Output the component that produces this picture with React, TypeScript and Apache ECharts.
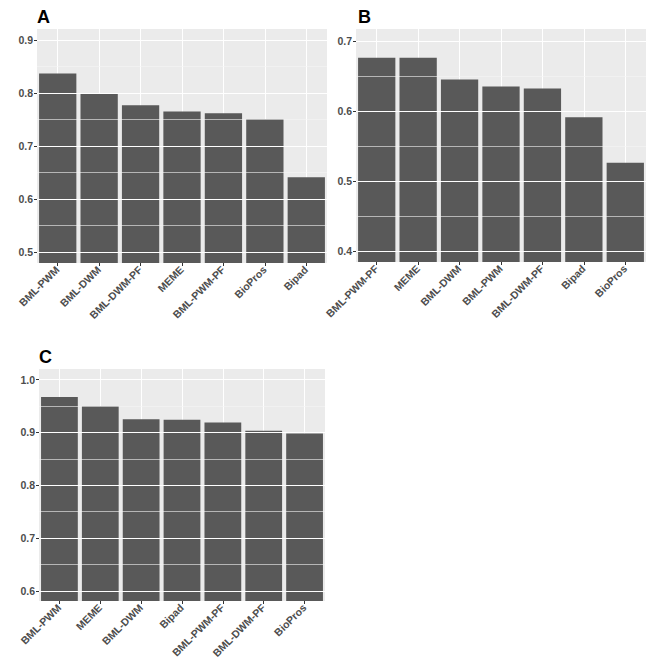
import React, { useEffect, useRef } from "react";
import * as echarts from "echarts";

const catsA = ["BML-PWM", "BML-DWM", "BML-DWM-PF", "MEME", "BML-PWM-PF", "BioPros", "Bipad"];
const valsA = [0.837, 0.798, 0.777, 0.765, 0.762, 0.751, 0.641];
const majorA = [0.5, 0.6, 0.7, 0.8, 0.9];
const minorA = [0.55, 0.65, 0.75, 0.85];

const catsB = ["BML-PWM-PF", "MEME", "BML-DWM", "BML-PWM", "BML-DWM-PF", "Bipad", "BioPros"];
const valsB = [0.676, 0.676, 0.645, 0.635, 0.632, 0.591, 0.526];
const majorB = [0.4, 0.5, 0.6, 0.7];
const minorB = [0.45, 0.55, 0.65];

const catsC = ["BML-PWM", "MEME", "BML-DWM", "Bipad", "BML-PWM-PF", "BML-DWM-PF", "BioPros"];
const valsC = [0.967, 0.95, 0.925, 0.924, 0.919, 0.903, 0.898];
const majorC = [0.6, 0.7, 0.8, 0.9, 1.0];
const minorC = [0.65, 0.75, 0.85, 0.95];

const panelLabels = ["A", "B", "C"];

const FONT = "'Liberation Sans', Arial, sans-serif";

export default function App() {
  const ref = useRef<HTMLDivElement>(null);
  useEffect(() => {
    if (!ref.current) return;
    const chart = echarts.init(ref.current, undefined, { renderer: "svg" });

    const panels = [
      { cats: catsA, vals: valsA, major: majorA, minor: minorA, min: 0.479, max: 0.921, split: 4, grid: { left: 37, top: 29, width: 290, height: 234 }, label: { x: 37, y: 17 } },
      { cats: catsB, vals: valsB, major: majorB, minor: minorB, min: 0.384, max: 0.717, split: 3, grid: { left: 356, top: 29, width: 290, height: 233 }, label: { x: 358, y: 17 } },
      { cats: catsC, vals: valsC, major: majorC, minor: minorC, min: 0.581, max: 1.02, split: 4, grid: { left: 39, top: 369, width: 286, height: 232 }, label: { x: 39, y: 357 } },
    ];

    const grids: any[] = [];
    const xAxes: any[] = [];
    const yAxes: any[] = [];
    const series: any[] = [];
    const graphics: any[] = [];

    panels.forEach((p, i) => {
      grids.push({ ...p.grid, show: true, backgroundColor: "#EBEBEB", borderWidth: 0 });
      xAxes.push({
        type: "category",
        gridIndex: i,
        data: p.cats,
        position: "bottom",
        axisLine: { show: false },
        axisTick: { show: true, alignWithLabel: true, length: 3, lineStyle: { color: "#333333", width: 1 } },
        splitLine: { show: true, alignWithLabel: true, interval: 0, lineStyle: { color: "#ffffff", width: 1.1 } },
        axisLabel: {
          rotate: 45,
          interval: 0,
          margin: 5,
          fontSize: 10.5,
          fontWeight: "bold",
          color: "#4d4d4d",
          fontFamily: FONT,
        },
      });
      yAxes.push({
        type: "value",
        gridIndex: i,
        min: p.min,
        max: p.max,
        splitNumber: p.split,
        axisLine: { show: false },
        axisTick: { show: true, length: 3, lineStyle: { color: "#333333", width: 1 } },
        axisLabel: {
          showMinLabel: false,
          showMaxLabel: false,
          margin: 4,
          fontSize: 10.5,
          fontWeight: "bold",
          color: "#4d4d4d",
          fontFamily: FONT,
          formatter: (v: number) => v.toFixed(1),
        },
        splitLine: { show: false },
      });

      // horizontal gridlines behind the bars, placed by the y scale
      const gridData = [
        ...p.minor.map((v) => ({ yAxis: v, lineStyle: { color: "#f5f5f5", width: 0.6, type: "solid" } })),
        ...p.major.map((v) => ({ yAxis: v, lineStyle: { color: "#ffffff", width: 1.1, type: "solid" } })),
      ];
      series.push({
        type: "line",
        xAxisIndex: i,
        yAxisIndex: i,
        data: p.vals,
        showSymbol: false,
        symbol: "none",
        lineStyle: { opacity: 0, width: 0 },
        itemStyle: { opacity: 0 },
        silent: true,
        z: 1,
        markLine: {
          silent: true,
          animation: false,
          symbol: ["none", "none"],
          label: { show: false },
          emphasis: { disabled: true },
          data: gridData,
        },
      });
      series.push({
        type: "bar",
        xAxisIndex: i,
        yAxisIndex: i,
        data: p.vals,
        barCategoryGap: "10%",
        itemStyle: { color: "#595959" },
        z: 3,
      });
      graphics.push({
        type: "text",
        x: p.label.x,
        y: p.label.y,
        style: {
          text: panelLabels[i],
          fontSize: 18,
          fontWeight: "bold",
          fontFamily: FONT,
          fill: "#000000",
          verticalAlign: "middle",
          align: "left",
        },
      });
    });

    chart.setOption({
      animation: false,
      grid: grids,
      xAxis: xAxes,
      yAxis: yAxes,
      series,
      graphic: graphics,
    });
    return () => chart.dispose();
  }, []);
  return (
    <div
      ref={ref}
      style={{ position: "absolute", left: 0, top: 0, width: 666, height: 666, background: "#fff" }}
    />
  );
}
